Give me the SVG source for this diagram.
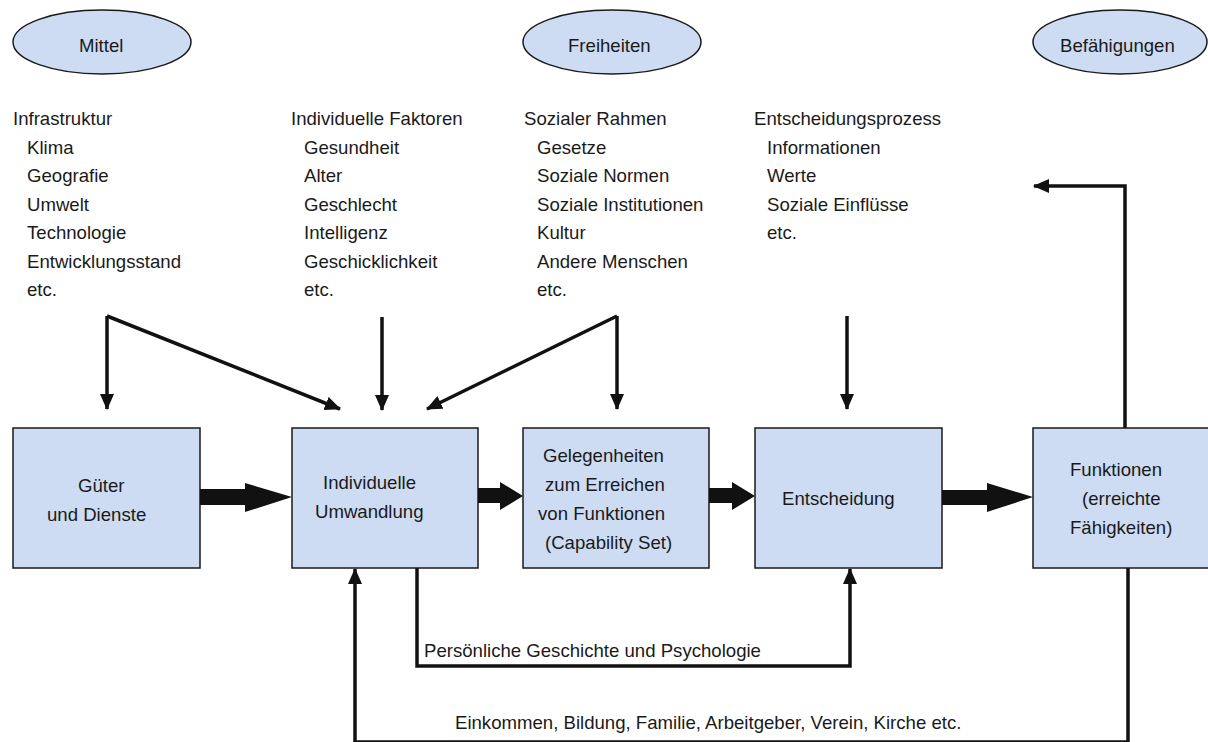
<svg xmlns="http://www.w3.org/2000/svg" width="1208" height="742" viewBox="0 0 1208 742">
<defs>
<style>
.bg{fill:#ffffff}
.node{fill:#cddcf3;stroke:#1a1a1a;stroke-width:1.5}
.t{font-family:"Liberation Sans",Arial,Helvetica,sans-serif;font-size:18.6px;fill:#1a1a1a}
.ln{fill:none;stroke:#111;stroke-width:3.5;stroke-linejoin:miter}
.big{fill:#111}
</style>
<marker id="ah" viewBox="0 0 16 14" refX="15" refY="7" markerWidth="16" markerHeight="14" markerUnits="userSpaceOnUse" orient="auto">
<path d="M0,0 L16,7 L0,14 Z" fill="#111"/>
</marker>
</defs>
<rect class="bg" x="0" y="0" width="1208" height="742"/>

<g id="ellipse-mittel"><ellipse class="node" cx="102" cy="42" rx="89" ry="32"/><text class="t" x="79" y="52">Mittel</text></g>
<g id="ellipse-freiheiten"><ellipse class="node" cx="612" cy="42" rx="89" ry="32"/><text class="t" x="568" y="52">Freiheiten</text></g>
<g id="ellipse-befaehigungen"><ellipse class="node" cx="1120" cy="42" rx="87" ry="32"/><text class="t" x="1060" y="52">Befähigungen</text></g>

<g id="list-infrastruktur" class="t">
<text x="13" y="125">Infrastruktur</text>
<text x="27" y="153.5">Klima</text>
<text x="27" y="182">Geografie</text>
<text x="27" y="210.5">Umwelt</text>
<text x="27" y="239">Technologie</text>
<text x="27" y="267.5">Entwicklungsstand</text>
<text x="27" y="296">etc.</text>
</g>
<g id="list-individuelle" class="t">
<text x="291" y="125">Individuelle Faktoren</text>
<text x="304" y="153.5">Gesundheit</text>
<text x="304" y="182">Alter</text>
<text x="304" y="210.5">Geschlecht</text>
<text x="304" y="239">Intelligenz</text>
<text x="304" y="267.5">Geschicklichkeit</text>
<text x="304" y="296">etc.</text>
</g>
<g id="list-sozial" class="t">
<text x="524" y="125">Sozialer Rahmen</text>
<text x="537" y="153.5">Gesetze</text>
<text x="537" y="182">Soziale Normen</text>
<text x="537" y="210.5">Soziale Institutionen</text>
<text x="537" y="239">Kultur</text>
<text x="537" y="267.5">Andere Menschen</text>
<text x="537" y="296">etc.</text>
</g>
<g id="list-entscheidung" class="t">
<text x="754" y="125">Entscheidungsprozess</text>
<text x="767" y="153.5">Informationen</text>
<text x="767" y="182">Werte</text>
<text x="767" y="210.5">Soziale Einflüsse</text>
<text x="767" y="239">etc.</text>
</g>

<g id="box-gueter"><rect class="node" x="13" y="428" width="187" height="140"/>
<text class="t" x="78" y="492">Güter</text><text class="t" x="47" y="521">und Dienste</text></g>
<g id="box-umwandlung"><rect class="node" x="292" y="428" width="186" height="140"/>
<text class="t" x="323" y="489">Individuelle</text><text class="t" x="315" y="518">Umwandlung</text></g>
<g id="box-gelegenheiten"><rect class="node" x="523" y="428" width="186" height="140"/>
<text class="t" x="543" y="462">Gelegenheiten</text><text class="t" x="545" y="491">zum Erreichen</text><text class="t" x="538" y="520">von Funktionen</text><text class="t" x="545" y="549">(Capability Set)</text></g>
<g id="box-entscheidung"><rect class="node" x="755" y="428" width="187" height="140"/>
<text class="t" x="782" y="505">Entscheidung</text></g>
<g id="box-funktionen"><rect class="node" x="1033" y="428" width="185" height="140"/>
<text class="t" x="1070" y="476">Funktionen</text><text class="t" x="1082" y="505">(erreichte</text><text class="t" x="1070" y="534">Fähigkeiten)</text></g>

<g id="connectors">
<polygon class="big" points="200,489 245,489 245,483 292,497 245,512 245,505 200,505"/>
<polygon class="big" points="478,488 500,488 500,482 523,496 500,510 500,503 478,503"/>
<polygon class="big" points="709,488 732,488 732,482 755,496 732,510 732,503 709,503"/>
<polygon class="big" points="942,490 987,490 987,483 1033,497 987,512 987,505 942,505"/>

<path class="ln" d="M107,316 L107,409" marker-end="url(#ah)"/>
<path class="ln" d="M107,316 L340,409" marker-end="url(#ah)"/>
<path class="ln" d="M382,317 L382,410" marker-end="url(#ah)"/>
<path class="ln" d="M617,316 L427,409" marker-end="url(#ah)"/>
<path class="ln" d="M617,316 L617,409" marker-end="url(#ah)"/>
<path class="ln" d="M847,316 L847,409" marker-end="url(#ah)"/>
<path class="ln" d="M1125,428 L1125,186 L1034,186" marker-end="url(#ah)"/>
<path class="ln" d="M417,568 L417,666 L850,666 L850,569" marker-end="url(#ah)"/>
<path class="ln" d="M1128,568 L1128,742 L355,742 L355,569" marker-end="url(#ah)"/>
<text class="t" x="424" y="657">Persönliche Geschichte und Psychologie</text>
<text class="t" x="455" y="729">Einkommen, Bildung, Familie, Arbeitgeber, Verein, Kirche etc.</text>
</g>
</svg>
